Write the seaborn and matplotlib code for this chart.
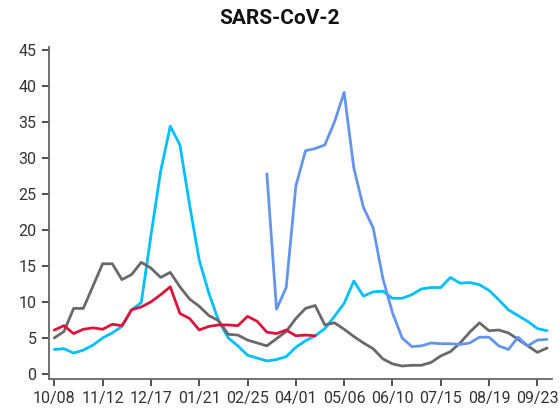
import numpy as np
import pandas as pd
import matplotlib
matplotlib.use("Agg")
import matplotlib.pyplot as plt
import seaborn as sns

# Weekly values, first week 10/08
weeks = pd.date_range("2020-10-08", periods=52, freq="7D")
week_labels = weeks.strftime("%m/%d")

cyan = [3.4, 3.5, 2.9, 3.3, 4.0, 5.0, 5.7, 6.6, 8.9, 9.9,
        19.2, 28.1, 34.4, 31.8, 23.5, 15.8, 11.2, 7.4, 5.0, 3.9,
        2.6, 2.2, 1.8, 2.0, 2.4, 3.7, 4.6, 5.3, 6.3, 8.0,
        9.8, 12.9, 10.8, 11.4, 11.5, 10.5, 10.5, 11.0, 11.8, 12.0,
        12.0, 13.4, 12.6, 12.7, 12.4, 11.6, 10.3, 8.9, 8.1, 7.3,
        6.3, 6.0]
gray = [5.0, 5.9, 9.1, 9.1, 12.2, 15.3, 15.3, 13.1, 13.8, 15.5,
        14.7, 13.4, 14.1, 12.1, 10.4, 9.4, 8.1, 7.4, 5.5, 5.4,
        4.7, 4.3, 3.9, 4.9, 5.9, 7.7, 9.1, 9.5, 6.8, 7.1,
        6.2, 5.2, 4.3, 3.5, 2.1, 1.4, 1.1, 1.2, 1.2, 1.6,
        2.5, 3.1, 4.3, 5.8, 7.1, 6.0, 6.1, 5.7, 4.8, 3.9,
        3.0, 3.6]
# red: weeks 0-27 only
red = [6.1, 6.7, 5.6, 6.2, 6.4, 6.2, 6.9, 6.7, 8.9, 9.3,
       10.0, 11.0, 12.1, 8.4, 7.7, 6.1, 6.6, 6.8, 6.8, 6.7,
       8.0, 7.3, 5.8, 5.6, 6.1, 5.3, 5.4, 5.3]
# blue: weeks 22-51 only
blue = [27.8, 9.0, 12.0, 26.1, 31.0, 31.3, 31.8, 35.0, 39.1, 28.6,
        23.1, 20.3, 13.3, 8.5, 5.0, 3.8, 3.9, 4.3, 4.2, 4.2,
        4.1, 4.3, 5.1, 5.1, 3.9, 3.4, 5.1, 3.9, 4.7, 4.8]

n = len(weeks)
df = pd.DataFrame({
    "week": np.arange(n),
    "cyan": cyan,
    "gray": gray,
    "red": red + [np.nan] * (n - len(red)),
    "blue": [np.nan] * (n - len(blue)) + blue,
})

sns.set_style("ticks")
plt.rcParams["font.family"] = ["Roboto", "DejaVu Sans"]

fig = plt.figure(figsize=(5.6, 4.16), dpi=100)
ax = fig.add_axes([0.0875, 0.089, 0.898, 0.798])

colors = {"cyan": "#00bfff", "gray": "#696969",
          "red": "#dc143c", "blue": "#6495ed"}
for name in ["cyan", "gray", "red", "blue"]:
    sns.lineplot(data=df, x="week", y=name, ax=ax, color=colors[name],
                 linewidth=2.0)

ax.set_xlim(-0.55, 51.5)
ax.set_ylim(-0.7, 45.4)
ax.set_xticks(df["week"][::5])
ax.set_xticklabels(week_labels[::5])
ax.set_yticks(np.arange(0, 46, 5))
ax.set_xlabel("")
ax.set_ylabel("")
sns.despine(ax=ax)
for s in ["left", "bottom"]:
    ax.spines[s].set_color("#666666")
    ax.spines[s].set_linewidth(1.3)
ax.tick_params(length=5, width=1.1, color="#222222", labelsize=11.5,
               labelcolor="#333333", pad=4)

fig.text(0.5, 0.955, "SARS-CoV-2", ha="center", va="center",
         fontsize=15, fontweight="bold",
         family=["Roboto", "DejaVu Sans"],
         color="#111111")

fig.savefig("out.png", dpi=100)
